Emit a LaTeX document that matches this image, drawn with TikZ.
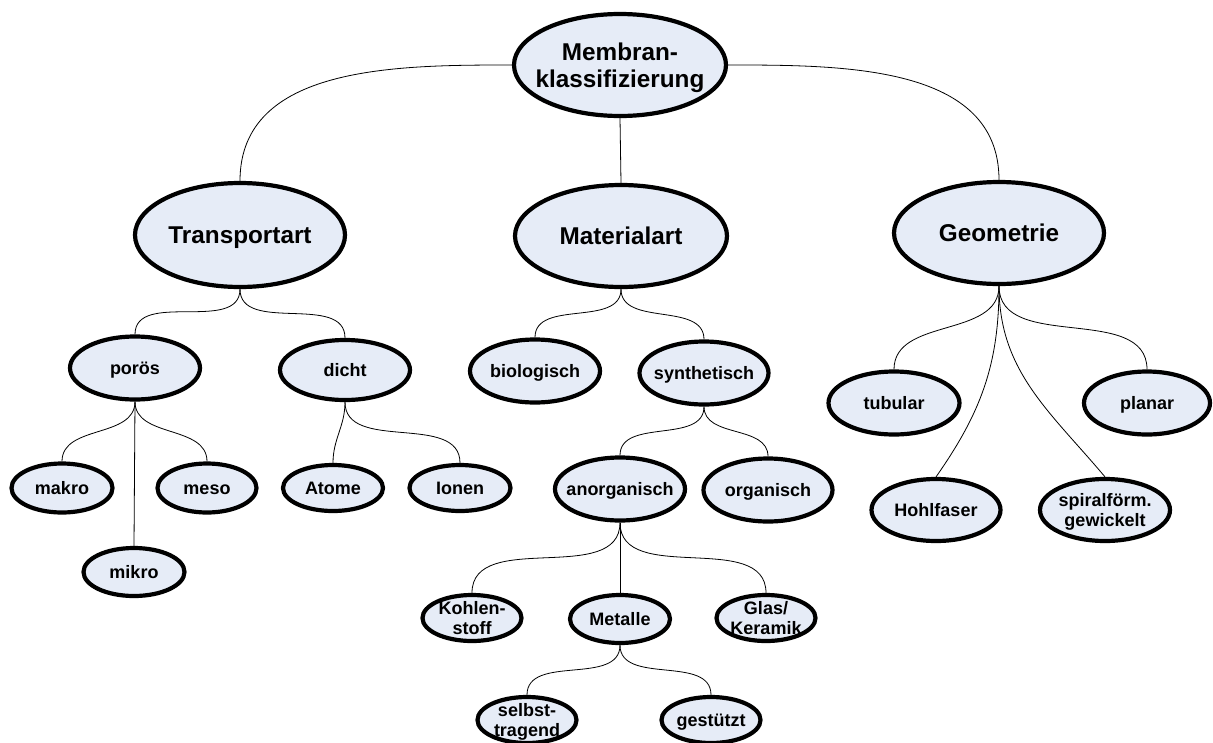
\documentclass[tikz,border=0pt]{standalone}
\usepackage{fontspec}
\setmainfont{Liberation Sans}
\usetikzlibrary{shapes.geometric,backgrounds}
\definecolor{nodefill}{RGB}{230,236,247}
\begin{document}
\begin{tikzpicture}[x=1pt,y=-1pt,
  el/.style={ellipse, draw=black, line width=4.2pt, fill=nodefill, inner sep=0pt},
  sz/.style 2 args={minimum width=#1pt, minimum height=#2pt},
  txt/.style={align=center, inner sep=0pt, text height=13pt, text depth=0pt, font=\bfseries\fontsize{18}{20}\selectfont},
  txttwo/.style={txt, text height=33pt},
  bigtxt/.style={align=center, inner sep=0pt, text height=17.5pt, text depth=0pt, font=\bfseries\fontsize{24.3}{27}\selectfont},
  bigtwo/.style={bigtxt, text height=44.5pt},
  con/.style={line width=0.8pt, draw=black}]
\useasboundingbox (0,0) rectangle (1213,742);
\clip (0,0) rectangle (1213,742);
% ellipses
\node[el, sz={212}{102}] (root) at (620,65) {};
\node[el, sz={210}{104}] (trans) at (240,235) {};
\node[el, sz={212}{102}] (mat) at (621,236) {};
\node[el, sz={210}{102}] (geo) at (999,233) {};
\node[el, sz={130}{63}] (poros) at (135,368) {};
\node[el, sz={130}{60}] (dicht) at (345,370) {};
\node[el, sz={101}{49}] (makro) at (62,488) {};
\node[el, sz={99}{49}] (meso) at (207,488) {};
\node[el, sz={101}{48}] (mikro) at (134,572) {};
\node[el, sz={100}{46}] (atome) at (333,488) {};
\node[el, sz={101}{46}] (ionen) at (460,488) {};
\node[el, sz={130}{63}] (bio) at (535,371) {};
\node[el, sz={129}{63}] (syn) at (704,373) {};
\node[el, sz={130}{63}] (anorg) at (620,489) {};
\node[el, sz={129}{63}] (org) at (768,490) {};
\node[el, sz={99}{46}] (kohlen) at (472,618) {};
\node[el, sz={100}{48}] (metalle) at (620,619) {};
\node[el, sz={99}{46}] (glas) at (766,618) {};
\node[el, sz={99}{46}] (selbst) at (527,720) {};
\node[el, sz={99}{46}] (gest) at (711,720) {};
\node[el, sz={131}{63}] (tubular) at (894,403) {};
\node[el, sz={126}{63}] (planar) at (1147,403) {};
\node[el, sz={129}{62}] (hohl) at (936,510) {};
\node[el, sz={130}{62}] (spiral) at (1105,510) {};
% texts
\node[bigtwo] (root-t) at (root) {Membran-\\klassifizierung};
\node[bigtxt] (trans-t) at (trans) {Transportart};
\node[bigtxt] (mat-t) at (mat) {Materialart};
\node[bigtxt] (geo-t) at (geo) {Geometrie};
\node[txt] (poros-t) at (poros) {porös};
\node[txt] (dicht-t) at (dicht) {dicht};
\node[txt] (makro-t) at (makro) {makro};
\node[txt] (meso-t) at (meso) {meso};
\node[txt] (mikro-t) at (mikro) {mikro};
\node[txt] (atome-t) at (atome) {Atome};
\node[txt] (ionen-t) at (ionen) {Ionen};
\node[txt] (bio-t) at (bio) {biologisch};
\node[txt] (syn-t) at (syn) {synthetisch};
\node[txt] (anorg-t) at (anorg) {anorganisch};
\node[txt] (org-t) at (org) {organisch};
\node[txttwo] (kohlen-t) at (kohlen) {Kohlen-\\stoff};
\node[txt] (metalle-t) at (metalle) {Metalle};
\node[txttwo] (glas-t) at (glas) {Glas/\\Keramik};
\node[txttwo] (selbst-t) at (selbst) {selbst-\\tragend};
\node[txt] (gest-t) at (gest) {gestützt};
\node[txt] (tubular-t) at (tubular) {tubular};
\node[txt] (planar-t) at (planar) {planar};
\node[txt] (hohl-t) at (hohl) {Hohlfaser};
\node[txttwo] (spiral-t) at (spiral) {spiralförm.\\gewickelt};
% connectors
\begin{scope}[on background layer]
\draw[con] (root.west) to[out=180,in=90] (trans.north);
\draw[con] (root.east) to[out=0,in=90] (geo.north);
\draw[con] (root.south) -- (mat.north);
\draw[con] (trans.south) to[out=-90,in=90] (poros.north);
\draw[con] (trans.south) to[out=-90,in=90] (dicht.north);
\draw[con] (poros.south) to[out=-90,in=90] (makro.north);
\draw[con] (poros.south) to[out=-90,in=90] (meso.north);
\draw[con] (poros.south) -- (mikro.north);
\draw[con] (dicht.south) to[out=-90,in=90] (atome.north);
\draw[con] (dicht.south) to[out=-90,in=90] (ionen.north);
\draw[con] (mat.south) to[out=-90,in=90] (bio.north);
\draw[con] (mat.south) to[out=-90,in=90] (syn.north);
\draw[con] (syn.south) to[out=-90,in=90] (anorg.north);
\draw[con] (syn.south) to[out=-90,in=90] (org.north);
\draw[con] (anorg.south) to[out=-90,in=90] (kohlen.north);
\draw[con] (anorg.south) -- (metalle.north);
\draw[con] (anorg.south) to[out=-90,in=90] (glas.north);
\draw[con] (metalle.south) to[out=-90,in=90] (selbst.north);
\draw[con] (metalle.south) to[out=-90,in=90] (gest.north);
\draw[con] (geo.south) to[out=-90,in=90] (tubular.north);
\draw[con] (geo.south) to[out=-90,in=90] (planar.north);
\draw[con] (geo.south) to[out=-90,in=55] (hohl.north);
\draw[con] (geo.south) to[out=-90,in=130] (spiral.north);
\end{scope}
\end{tikzpicture}
\end{document}
